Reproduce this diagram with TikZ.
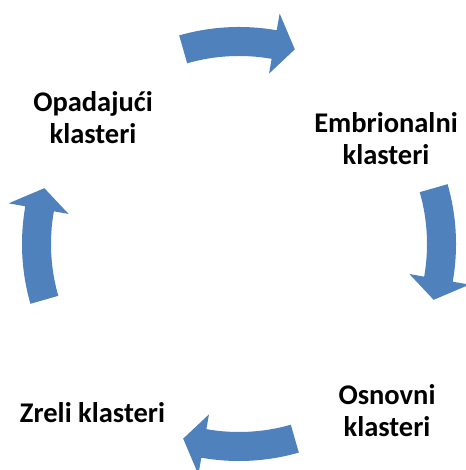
\documentclass[tikz,border=0pt]{standalone}
\usepackage{fontspec}
\setmainfont{Carlito}
\definecolor{cycblue}{HTML}{4F81BD}
\begin{document}
\begin{tikzpicture}[x=1pt,y=1pt,
  lbl/.style={font=\bfseries\fontsize{28.5}{32}\selectfont, align=center, inner sep=0pt, anchor=base},
  cycarrow/.style={fill=cycblue, draw=none}]
\useasboundingbox (0,0) rectangle (465,470);
\coordinate (cen) at (239,226);
% four curved block arrows running clockwise round the cycle
\foreach \c in {90,0,-90,180} {
  \fill[cycarrow, shift={(cen)}]
    (\c+16:217pt) arc[start angle=\c+16, end angle=\c-10, radius=217pt]
    -- (\c-10:234pt) -- (\c-16:202.5pt) -- (\c-10:173pt) -- (\c-10:188pt)
    arc[start angle=\c-10, end angle=\c+16, radius=188pt] -- cycle;
}
% labels (base anchor sits on the last line's baseline)
\node[lbl] (emb) at (386,305) {Embrionalni\\klasteri};
\node[lbl] (osn) at (387,33.5) {Osnovni\\klasteri};
\node[lbl] (zre) at (92.5,47.3) {Zreli klasteri};
\node[lbl] (opa) at (93,326.5) {Opadajući\\klasteri};
\end{tikzpicture}
\end{document}
